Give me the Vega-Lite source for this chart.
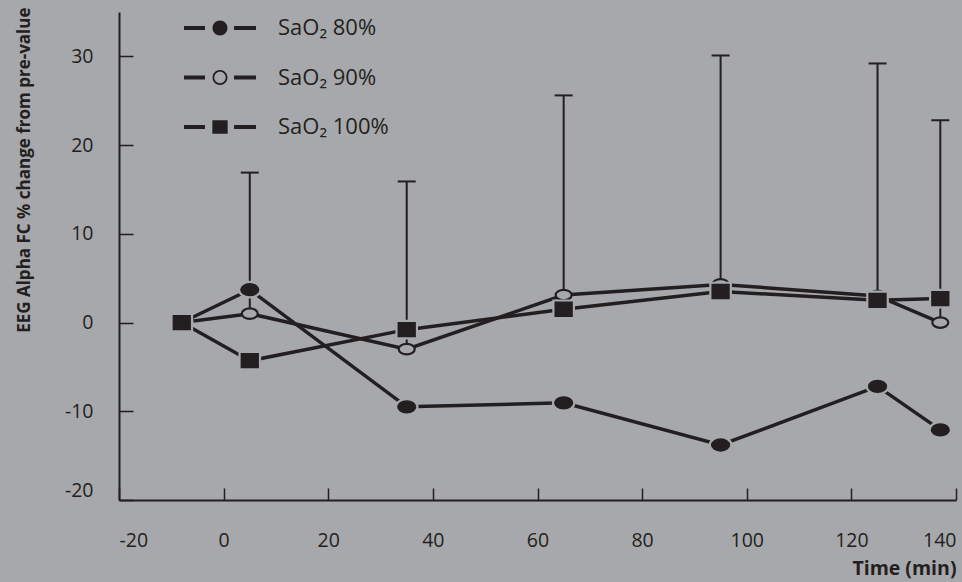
{
  "$schema": "https://vega.github.io/schema/vega-lite/v6.json",
  "width": 837,
  "height": 488,
  "autosize": {"type": "none"},
  "padding": {"left": 119, "top": 12, "right": 6, "bottom": 82},
  "background": "#a7a8ab",
  "config": {
    "view": {"stroke": null},
    "font": "Open Sans",
    "axis": {
      "grid": false,
      "domainColor": "#231f20",
      "domainWidth": 2,
      "tickColor": "#231f20",
      "tickWidth": 1.5,
      "labelColor": "#231f20",
      "titleColor": "#231f20",
      "labelFont": "Open Sans",
      "titleFont": "Open Sans",
      "labelFontSize": 19.5
    }
  },
  "data": {
    "values": [
      {"series": "SaO₂ 80%", "time": -8, "value": 0},
      {"series": "SaO₂ 80%", "time": 5, "value": 3.7},
      {"series": "SaO₂ 80%", "time": 35, "value": -9.5},
      {"series": "SaO₂ 80%", "time": 65, "value": -9.05},
      {"series": "SaO₂ 80%", "time": 95, "value": -13.8},
      {"series": "SaO₂ 80%", "time": 125, "value": -7.2},
      {"series": "SaO₂ 80%", "time": 137, "value": -12.1},
      {"series": "SaO₂ 90%", "time": -8, "value": 0},
      {"series": "SaO₂ 90%", "time": 5, "value": 1.0, "top": 16.9},
      {"series": "SaO₂ 90%", "time": 35, "value": -3.0, "top": 15.9},
      {"series": "SaO₂ 90%", "time": 65, "value": 3.1, "top": 25.6},
      {"series": "SaO₂ 90%", "time": 95, "value": 4.3, "top": 30.1},
      {"series": "SaO₂ 90%", "time": 125, "value": 3.0, "top": 29.2},
      {"series": "SaO₂ 90%", "time": 137, "value": 0, "top": 22.8},
      {"series": "SaO₂ 100%", "time": -8, "value": 0},
      {"series": "SaO₂ 100%", "time": 5, "value": -4.3},
      {"series": "SaO₂ 100%", "time": 35, "value": -0.8},
      {"series": "SaO₂ 100%", "time": 65, "value": 1.5},
      {"series": "SaO₂ 100%", "time": 95, "value": 3.5},
      {"series": "SaO₂ 100%", "time": 125, "value": 2.5},
      {"series": "SaO₂ 100%", "time": 137, "value": 2.7}
    ]
  },
  "encoding": {
    "x": {
      "field": "time", "type": "quantitative",
      "scale": {"domain": [-20, 140], "nice": false, "zero": false},
      "axis": {
        "values": [-20, 0, 20, 40, 60, 80, 100, 120, 140],
        "tickSize": -12,
        "labelPadding": 43,
        "labelFlush": true,
        "labelExpr": "'' + datum.value",
        "title": "Time (min)",
        "titleAnchor": "end",
        "titleFontWeight": "bold",
        "titleFontSize": 19.5,
        "titlePadding": 10
      }
    },
    "y": {
      "field": "value", "type": "quantitative",
      "scale": {"domain": [-20, 35], "nice": false, "zero": false},
      "axis": {
        "values": [-20, -10, 0, 10, 20, 30],
        "tickSize": -14,
        "labelPadding": 40,
        "labelFlush": true,
        "labelExpr": "'' + datum.value",
        "title": "EEG  Alpha FC % change from pre-value",
        "titleFontWeight": "bold",
        "titleFontSize": 17,
        "titleAngle": -90,
        "titleX": -95,
        "titleY": -5,
        "titleAlign": "right",
        "titleBaseline": "middle"
      }
    }
  },
  "layer": [
    {
      "mark": {"type": "line", "stroke": "#231f20", "strokeWidth": 3.5},
      "encoding": {
        "detail": {"field": "series", "type": "nominal"}
      }
    },
    {
      "transform": [{"filter": "isValid(datum.top)"}],
      "mark": {"type": "rule", "stroke": "#231f20", "strokeWidth": 2},
      "encoding": {
        "y2": {"field": "top"}
      }
    },
    {
      "transform": [{"filter": "isValid(datum.top)"}],
      "mark": {"type": "tick", "orient": "horizontal", "color": "#231f20", "size": 18, "thickness": 2, "opacity": 1},
      "encoding": {
        "y": {"field": "top", "type": "quantitative", "axis": {"title": "EEG  Alpha FC % change from pre-value"}}
      }
    },
    {
      "mark": {"type": "point", "filled": true, "color": "#231f20", "opacity": 0, "size": 324, "strokeWidth": 0},
      "encoding": {
        "shape": {
          "field": "series", "type": "nominal",
          "scale": {
            "domain": ["SaO₂ 80%", "SaO₂ 90%", "SaO₂ 100%"],
            "range": [
              "M-4,-0.23H-1.67V0.23H-4Z M1.56,-0.23H4V0.23H1.56Z M-0.83,0A0.83,0.83 0 1,0 0.83,0A0.83,0.83 0 1,0 -0.83,0Z",
              "M-4,-0.23H-1.67V0.23H-4Z M1.56,-0.23H4V0.23H1.56Z M-0.83,0A0.83,0.83 0 1,0 0.83,0A0.83,0.83 0 1,0 -0.83,0Z M-0.63,0A0.63,0.63 0 1,1 0.63,0A0.63,0.63 0 1,1 -0.63,0Z",
              "M-4,-0.23H-1.67V0.23H-4Z M1.56,-0.23H4V0.23H1.56Z M-0.85,-0.74H0.85V0.74H-0.85Z"
            ]
          },
          "legend": {
            "title": null,
            "orient": "none",
            "legendX": 90,
            "legendY": 5,
            "padding": 0,
            "symbolSize": 324,
            "symbolStrokeWidth": 0,
            "symbolOpacity": 1,
            "symbolFillColor": "#231f20",
            "labelFontSize": 22,
            "labelFont": "Open Sans",
            "labelColor": "#231f20",
            "labelOffset": 47,
            "rowPadding": 27.5
          }
        }
      }
    },
    {
      "transform": [{"filter": "datum.series === 'SaO₂ 80%'"}],
      "mark": {"type": "point", "filled": true, "opacity": 1, "size": 400, "strokeWidth": 2.2, "fill": "#231f20", "stroke": "#a7a8ab",
        "shape": "M-1.075,0A1.075,0.775 0 1,0 1.075,0A1.075,0.775 0 1,0 -1.075,0Z"}
    },
    {
      "transform": [{"filter": "datum.series === 'SaO₂ 90%'"}],
      "mark": {"type": "point", "filled": true, "opacity": 1, "size": 400, "strokeWidth": 2.2, "fill": "#a7a8ab", "stroke": "#231f20",
        "shape": "M-0.8,0A0.8,0.525 0 1,0 0.8,0A0.8,0.525 0 1,0 -0.8,0Z"}
    },
    {
      "transform": [{"filter": "datum.series === 'SaO₂ 100%'"}],
      "mark": {"type": "point", "filled": true, "opacity": 1, "size": 400, "strokeWidth": 2.2, "fill": "#231f20", "stroke": "#a7a8ab",
        "shape": "M-1.025,-0.875H1.025V0.875H-1.025Z"}
    }
  ]
}
